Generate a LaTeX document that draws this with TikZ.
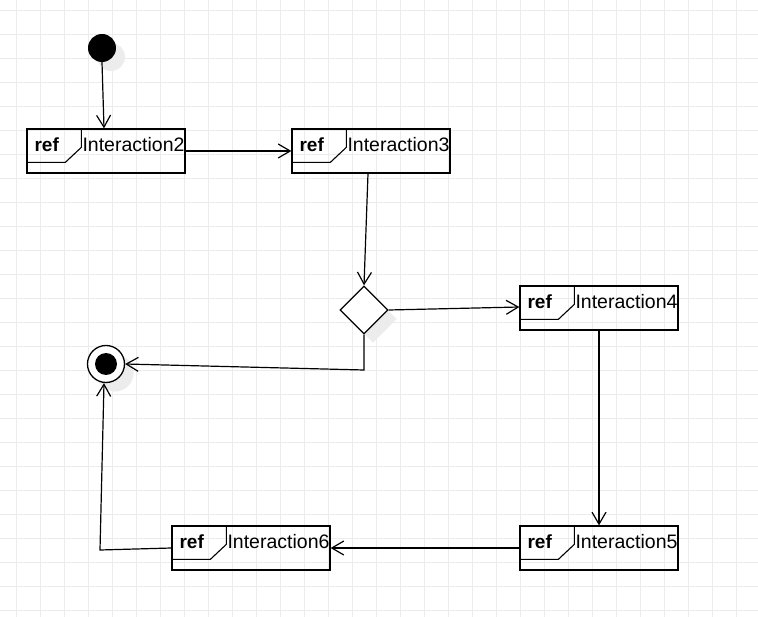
\documentclass[tikz,border=0pt]{standalone}
\usepackage{fontspec}
\setmainfont{Liberation Sans}
\usetikzlibrary{arrows.meta,shapes.geometric,shadows}
\definecolor{gridc}{gray}{0.925}
\definecolor{shadowc}{gray}{0.925}
\begin{document}
\begin{tikzpicture}[x=1pt,y=-1pt,
  refbox/.style={draw,line width=1.3pt,minimum width=158pt,minimum height=44pt,inner sep=0pt},
  tabline/.style={line width=1.1pt},
  conn/.style={line width=1.2pt,-{Straight Barb[length=12pt,width=14pt,line width=1.2pt]}},
  plain/.style={line width=1.2pt},
  mytxt/.style={inner sep=0pt,anchor=base west,font=\fontsize{19.5}{23}\selectfont},
  reftxt/.style={inner sep=0pt,anchor=base west,font=\fontsize{19}{23}\selectfont\bfseries},
  myshadow/.style={general shadow={fill=shadowc,shadow xshift=9pt,shadow yshift=-9pt}}
]
\useasboundingbox (0,0) rectangle (758,617);
\fill[white] (0,0) rectangle (758,617);
\foreach \x in {16.5,40.5,...,760} \draw[gridc,line width=1pt] (\x,0) -- (\x,617);
\foreach \y in {10.5,34.5,...,620} \draw[gridc,line width=1pt] (0,\y) -- (758,\y);

\newcommand{\refbox}[3]{%
  \node[refbox] (#1) at (#2) {};
  \draw[tabline] (#1.north west) ++(0,34) -- ++(39,0) -- ++(16,-15) -- ++(0,-19);
  \node[reftxt] (#1r) at ([shift={(8,23)}]#1.north west) {ref};
  \node[mytxt] (#1t) at ([shift={(56,23)}]#1.north west) {#3};
}

\refbox{i2}{106,151}{Interaction2}
\refbox{i3}{371,151}{Interaction3}
\refbox{i4}{599,308}{Interaction4}
\refbox{i5}{599,548}{Interaction5}
\refbox{i6}{251,548}{Interaction6}

\node[circle,fill=black,minimum size=28pt,inner sep=0pt,myshadow] (s) at (102,48) {};
\node[diamond,draw,fill=white,line width=1.3pt,minimum width=48pt,minimum height=48pt,inner sep=0pt,myshadow] (dec) at (364,310) {};
\node[circle,draw,fill=white,line width=1.3pt,minimum size=37pt,inner sep=0pt,myshadow] (e) at (106,364) {};
\node[circle,fill=black,minimum size=22pt,inner sep=0pt] (ei) at (e.center) {};

\coordinate (c1) at (364,370);
\coordinate (c2) at (100,550);

\draw[conn] (s.south) -- ([xshift=-2pt]i2.north);
\draw[conn] (i2.east) -- (i3.west);
\draw[conn] ([xshift=-3pt]i3.south) -- (dec.north);
\draw[conn] (dec.east) -- ([yshift=1pt]i4.west);
\draw[conn] (dec.south) -- (c1) -- (e.east);
\draw[conn] (i4.south) -- (i5.north);
\draw[conn] (i5.west) -- (i6.east);
\draw[conn] (i6.west) -- (c2) -- ([xshift=-2pt]e.south);
\end{tikzpicture}
\end{document}
